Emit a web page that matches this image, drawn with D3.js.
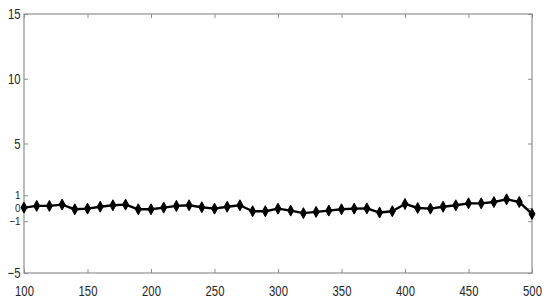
<!DOCTYPE html>
<html><head><meta charset="utf-8">
<script src="https://cdn.jsdelivr.net/npm/d3@7"></script>
<style>body{margin:0;background:#fff}svg{display:block}text{font-family:"Liberation Sans",Arial,sans-serif}</style>
</head><body>
<svg id="c" width="550" height="303"></svg>
<script>
const xValues = [100,110,120,130,140,150,160,170,180,190,200,210,220,230,240,250,260,270,280,290,300,310,320,330,340,350,360,370,380,390,400,410,420,430,440,450,460,470,480,490,500];
const yValues = [0.05,0.18,0.18,0.28,-0.08,-0.03,0.12,0.23,0.28,-0.08,-0.08,0.05,0.18,0.23,0.08,-0.03,0.12,0.23,-0.23,-0.23,-0.03,-0.18,-0.38,-0.28,-0.18,-0.08,-0.03,-0.01,-0.33,-0.23,0.33,0.02,-0.03,0.12,0.23,0.38,0.38,0.48,0.69,0.48,-0.44];
const xTicks = [100,150,200,250,300,350,400,450,500];
const yTicks = [-5,-1,0,1,5,10,15];
const crowdedTicks = [-1,0,1];

const svg = d3.select("#c");
const L=24,R=532,T=14,B=273;
const x = d3.scaleLinear().domain([100,500]).range([L,R]);
const y = d3.scaleLinear().domain([-5,15]).range([B,T]);
const axisColor="#8f8f8f", textColor="#262626";

svg.append("rect").attr("x",L).attr("y",T).attr("width",R-L).attr("height",B-T)
  .attr("fill","none").attr("stroke",axisColor).attr("stroke-width",1.2);

function styleAxis(g){
  g.select(".domain").remove();
  g.selectAll("line").attr("stroke",axisColor);
  g.selectAll("text").attr("fill",textColor).style("font-size","14.5px").attr("transform","scale(0.78,1)");
}
const tl=4;
svg.append("g").attr("transform",`translate(0,${B})`)
  .call(d3.axisBottom(x).tickValues(xTicks).tickFormat(d3.format("d")).tickSizeInner(-tl).tickSizeOuter(0).tickPadding(12.5))
  .call(styleAxis);
svg.append("g").attr("transform",`translate(0,${T})`)
  .call(d3.axisTop(x).tickValues(xTicks).tickFormat("").tickSizeInner(-tl).tickSizeOuter(0))
  .call(styleAxis);
const yAx = svg.append("g").attr("transform",`translate(${L},0)`)
  .call(d3.axisLeft(y).tickValues(yTicks).tickFormat(d3.format("d")).tickSizeInner(-tl).tickSizeOuter(0).tickPadding(4.5))
  .call(styleAxis);
yAx.selectAll("g.tick").filter(d=>crowdedTicks.includes(d)).select("text")
  .style("font-size","11.5px").attr("transform","scale(0.85,1)").attr("x",-4.1);
svg.append("g").attr("transform",`translate(${R},0)`)
  .call(d3.axisRight(y).tickValues(yTicks).tickFormat("").tickSizeInner(-tl).tickSizeOuter(0))
  .call(styleAxis);

const data = xValues.map((d,i)=>({x:d,y:yValues[i]}));
svg.append("path").datum(data)
  .attr("fill","none").attr("stroke","#000").attr("stroke-width",2.4).attr("stroke-linejoin","round")
  .attr("d",d3.line().x(d=>x(d.x)).y(d=>y(d.y)));
svg.append("g").selectAll("path").data(data).join("path")
  .attr("transform",d=>`translate(${x(d.x)},${y(d.y)})`)
  .attr("d","M0,-5.5L3,0L0,5.5L-3,0Z")
  .attr("fill","#000").attr("stroke","#000").attr("stroke-width",1);
</script>
</body></html>
